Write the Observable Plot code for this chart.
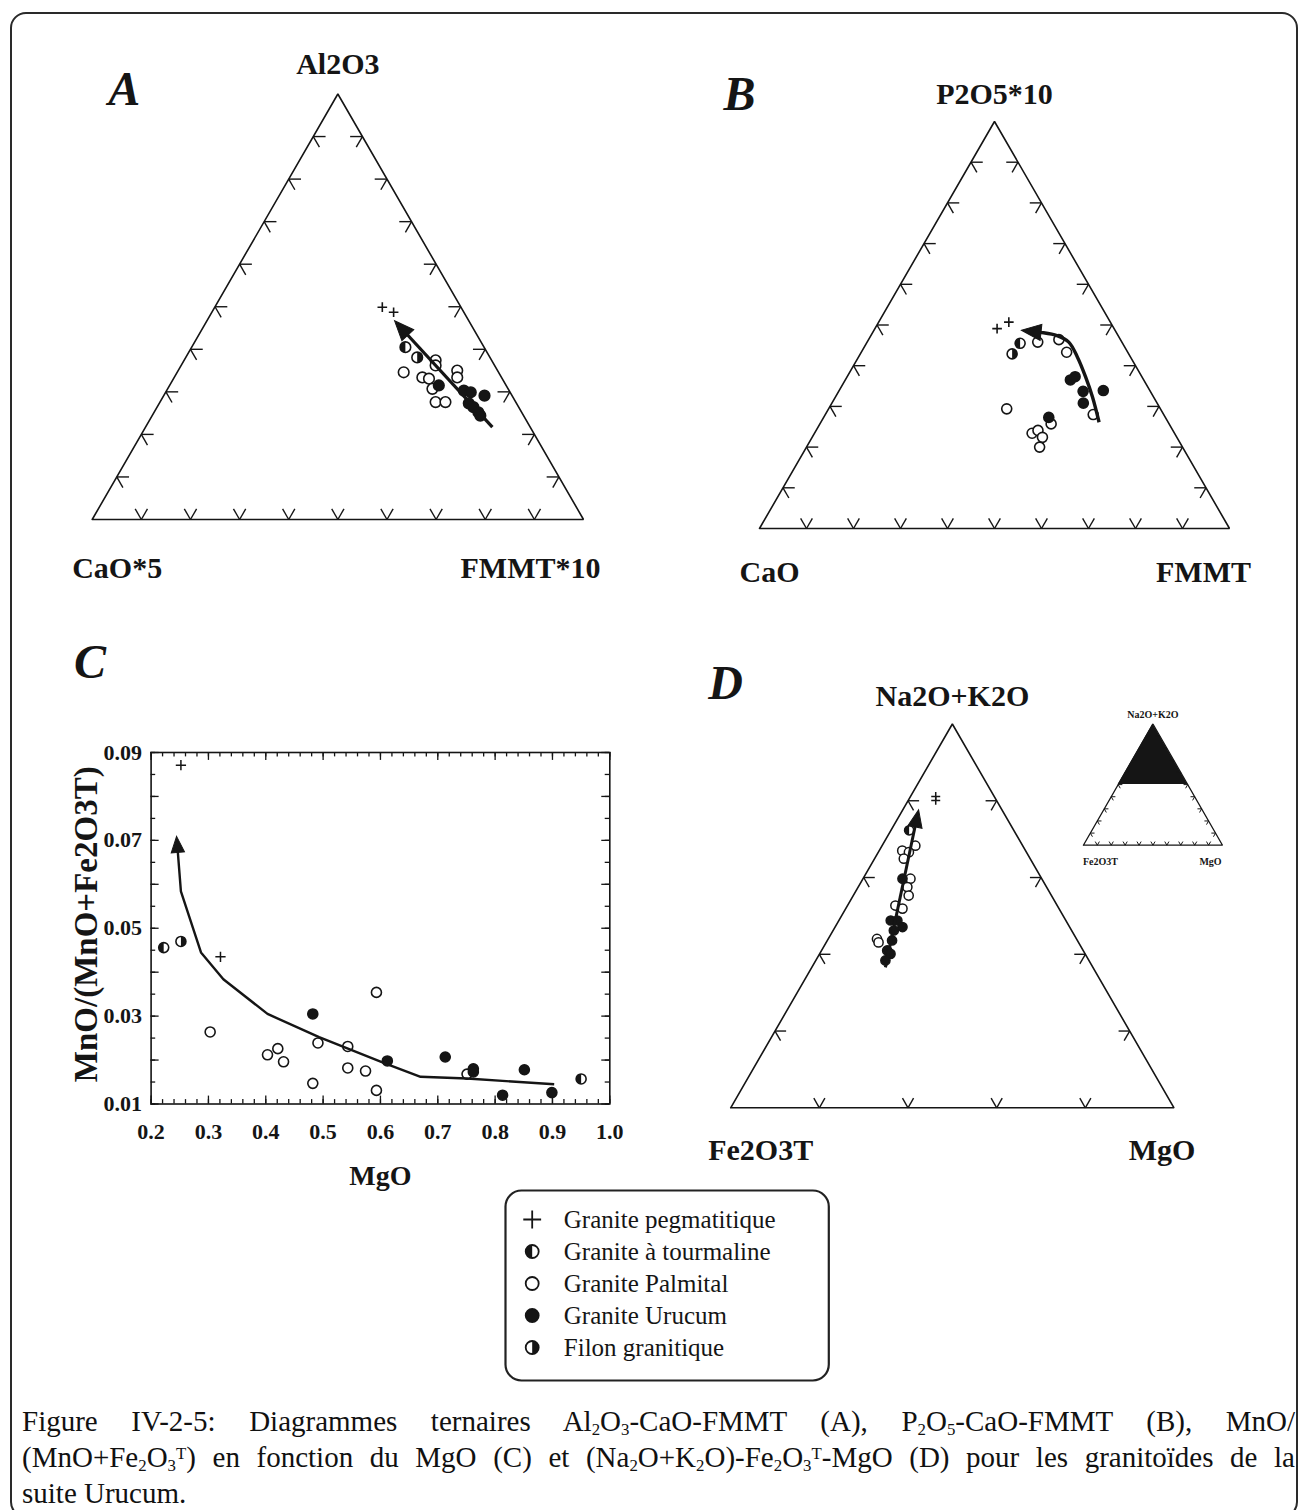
<!DOCTYPE html>
<html><head><meta charset="utf-8">
<script src="https://cdn.jsdelivr.net/npm/d3@7"></script>
<script src="https://cdn.jsdelivr.net/npm/@observablehq/plot@0.6"></script>
<style>
html,body{margin:0;padding:0;background:#fff;overflow:hidden;}
#page{position:relative;width:1306px;height:1510px;overflow:hidden;background:#fff;font-family:"Liberation Serif","Times New Roman",serif;color:#111;}
#border{position:absolute;left:10px;top:12px;width:1288px;height:1506px;border:2px solid #2a2a2a;border-radius:16px;box-sizing:border-box;}
#caption{position:absolute;left:22px;top:1403px;width:1273px;font-size:29px;line-height:36px;}
#caption > div{height:36px;}
#caption .j{text-align:justify;text-align-last:justify;white-space:nowrap;}
#caption .t{word-spacing:-1px;}
#caption sub,#caption sup{font-size:0.58em;line-height:1;vertical-align:baseline;position:relative;}
#caption sub{top:0.22em;}
#caption sup{top:-0.5em;}
</style></head>
<body><div id="page"><div id="border"></div>
<div id="caption">
<div class="j">Figure IV-2-5: Diagrammes ternaires Al<sub>2</sub>O<sub>3</sub>-CaO-FMMT (A), P<sub>2</sub>O<sub>5</sub>-CaO-FMMT (B), MnO/</div>
<div class="j t">(MnO+Fe<sub>2</sub>O<sub>3</sub><sup>T</sup>) en fonction du MgO (C) et (Na<sub>2</sub>O+K<sub>2</sub>O)-Fe<sub>2</sub>O<sub>3</sub><sup>T</sup>-MgO (D) pour les granitoïdes de la</div>
<div>suite Urucum.</div>
</div>
</div>
<script>
// ---------------- DATA ----------------
const groups = ["Granite pegmatitique","Granite à tourmaline","Granite Palmital","Granite Urucum","Filon granitique"];

// Panel A : [Al2O3 %, FMMT*10 %]  (CaO*5 = remainder)
const aPeg   = [[49.9,34.1],[48.7,37.0]];
const aTour  = [[40.5,43.5]];
const aFilon = [[38.1,47.1]];
const aPalm  = [[37.4,51.2],[36.2,51.8],[34.6,46.1],[33.4,50.5],[33.1,52.0],[30.7,53.9],[35.0,56.8],[33.4,57.6],[27.6,56.1],[27.6,58.1]];
const aUru   = [[31.5,54.8],[30.3,60.5],[29.9,62.1],[29.1,65.3],[27.3,63.0],[26.4,64.4],[25.2,66.0],[24.4,66.8]];
const aTrend = [[21.7,70.6],[46.0,39.1]];

// Panel B : [P2O5*10 %, FMMT %]  (CaO = remainder)
const bPeg   = [[49.1,26.0],[50.7,27.7]];
const bTour  = [[45.5,32.7]];
const bFilon = [[42.9,32.3]];
const bPalm  = [[45.8,36.3],[46.4,40.5],[43.3,43.7],[29.4,37.9],[28.0,57.0],[25.7,49.2],[23.4,46.3],[24.1,47.2],[22.4,49.0],[20.0,49.6]];
const bUru   = [[36.5,47.9],[37.3,48.5],[33.7,52.0],[33.9,56.2],[30.8,53.5],[27.3,47.9]];
const bTrend = [[26.1,59.2],[32.3,54.7],[37.2,50.8],[42.1,46.6],[45.8,42.9],[47.4,39.6],[48.2,35.7],[48.6,32.3]];

// Panel C : [MgO, MnO/(MnO+Fe2O3T)]
const cPeg   = [[0.252,0.0871],[0.321,0.0435]];
const cTour  = [[0.222,0.0456],[0.950,0.0157]];
const cFilon = [[0.252,0.0470]];
const cPalm  = [[0.303,0.0264],[0.403,0.0212],[0.421,0.0226],[0.431,0.0196],[0.482,0.0147],[0.491,0.0239],[0.543,0.0231],[0.543,0.0182],[0.574,0.0175],[0.593,0.0354],[0.593,0.0131],[0.751,0.0168]];
const cUru   = [[0.482,0.0305],[0.612,0.0198],[0.713,0.0207],[0.762,0.0180],[0.762,0.0173],[0.851,0.0178],[0.813,0.0120],[0.899,0.0126]];
const cTrend = [[0.903,0.0145],[0.751,0.0158],[0.670,0.0162],[0.609,0.0192],[0.493,0.0252],[0.403,0.0305],[0.326,0.0384],[0.287,0.0445],[0.252,0.0584],[0.245,0.0700]];
const cXTicks = [0.2,0.3,0.4,0.5,0.6,0.7,0.8,0.9,1.0];
const cYTicks = [0.01,0.03,0.05,0.07,0.09];

// Panel D : [Na2O+K2O %, MgO %]  (Fe2O3T = remainder)
const dPeg   = [[81.1,5.7],[80.1,6.2]];
const dTour  = [[72.3,4.1]];
const dPalm  = [[68.3,7.5],[67.0,5.2],[66.6,6.9],[64.9,6.6],[59.7,10.7],[57.5,11.1],[55.3,12.5],[52.7,10.8],[51.9,12.8],[44.0,11.0],[43.1,11.8]];
const dUru   = [[59.7,8.9],[48.8,11.7],[48.8,13.2],[47.1,15.2],[46.2,13.7],[43.6,14.6],[41.0,14.8],[40.1,16.0],[38.4,15.7]];
const dTrend = [[36.6,16.6],[76.6,3.9]];
const dInsetCut = [50,100]; // shaded field Na2O+K2O > 50 %

const ticks10 = [10,20,30,40,50,60,70,80,90];
const ticks20 = [20,40,60,80];

// ---------------- HELPERS ----------------
const W = 1306, H = 1510;
const INK = "#151515";
const FONT = "'Liberation Serif','Times New Roman',serif";
const page = document.getElementById("page");

const halfLeft  = {draw(c,s){const r=Math.sqrt(s/Math.PI); c.moveTo(0,-r); c.arc(0,0,r,-Math.PI/2,Math.PI/2,true); c.closePath();}};
const halfRight = {draw(c,s){const r=Math.sqrt(s/Math.PI); c.moveTo(0,-r); c.arc(0,0,r,-Math.PI/2,Math.PI/2,false); c.closePath();}};
const arrowSym  = {draw(c,s){const r=Math.sqrt(s/Math.PI); c.moveTo(0,-1.4*r); c.lineTo(0.95*r,0.9*r); c.lineTo(-0.95*r,0.9*r); c.closePath();}};

function mount(svg){
  svg.style.position="absolute"; svg.style.left="0px"; svg.style.top="0px";
  svg.style.maxWidth="none"; svg.style.background="transparent"; svg.style.overflow="visible";
  page.appendChild(svg);
}
function frameOpts(L,R,T,B){
  return {width:W,height:H,marginLeft:L,marginRight:W-R,marginTop:T,marginBottom:H-B,
          style:{background:"transparent",fontFamily:FONT}};
}
function symbolMarks(pts, kind, r, pr, sw){
  const o = {x:"x", y:"y"};
  switch(kind){
    case "peg":   return [Plot.dot(pts,{...o,symbol:"plus",r:pr,fill:"none",stroke:INK,strokeWidth:sw})];
    case "tour":  return [Plot.dot(pts,{...o,r,fill:"white",stroke:INK,strokeWidth:sw}),
                          Plot.dot(pts,{...o,r,symbol:halfLeft,fill:INK,stroke:"none"})];
    case "filon": return [Plot.dot(pts,{...o,r,fill:"white",stroke:INK,strokeWidth:sw}),
                          Plot.dot(pts,{...o,r,symbol:halfRight,fill:INK,stroke:"none"})];
    case "palm":  return [Plot.dot(pts,{...o,r,fill:"white",stroke:INK,strokeWidth:sw})];
    case "uru":   return [Plot.dot(pts,{...o,r,fill:INK,stroke:INK,strokeWidth:sw})];
  }
}
function head(tp, sx, sy, r, ext=4){
  const a = tp[tp.length-2], b = tp[tp.length-1];
  const X0=sx(a.x),Y0=sy(a.y),X1=sx(b.x),Y1=sy(b.y);
  const L=Math.hypot(X1-X0,Y1-Y0), ux=(X1-X0)/L, uy=(Y1-Y0)/L;
  const k = ext - 1.4*r;
  return Plot.dot([b],{x:"x",y:"y",symbol:arrowSym,r,fill:INK,stroke:INK,strokeWidth:1,strokeLinejoin:"miter",
    rotate:Math.atan2(ux,-uy)*180/Math.PI, dx:ux*k, dy:uy*k});
}
const cart = ([t,r]) => ({x:(r+t/2)/100, y:t/100});
function tickSegs(ticks, d){
  const s=[];
  for(const f of ticks){
    s.push([[0,f],[d,f]],[[0,f],[d,f-d]]);                 // bottom edge
    s.push([[f,0],[f,d]],[[f,0],[f-d,d]]);                 // left edge
    s.push([[f,100-f],[f,100-f-d]],[[f,100-f],[f-d,100-f]]); // right edge
  }
  return s.map(([a,b])=>{const p=cart(a),q=cart(b);return {x1:p.x,y1:p.y,x2:q.x,y2:q.y};});
}
const VX = {apex:0.5,left:0,right:1,corner:0}, VY = {apex:1,left:0,right:0,corner:1};

function ternary(cfg){
  const sx=d3.scaleLinear([0,1],[cfg.L,cfg.R]), sy=d3.scaleLinear([0,1],[cfg.B,cfg.T]);
  const outline=[[0,0],[0,100],[100,0],[0,0]].map(cart);
  const marks=[];
  if(cfg.fillTop) marks.push(Plot.areaX(cfg.fillTop.map(t=>({t})),{y:d=>d.t/100,x1:d=>d.t/200,x2:d=>1-d.t/200,fill:INK,stroke:"none"}));
  marks.push(Plot.link(tickSegs(cfg.ticks,cfg.d),{x1:"x1",y1:"y1",x2:"x2",y2:"y2",stroke:INK,strokeWidth:cfg.tickW}));
  marks.push(Plot.line(outline,{x:"x",y:"y",stroke:INK,strokeWidth:cfg.ow,strokeLinejoin:"miter"}));
  if(cfg.sets) for(const [kind,pts] of cfg.sets) marks.push(...symbolMarks(pts.map(cart),kind,cfg.r,cfg.pr,cfg.sw));
  if(cfg.trend){
    const tp=cfg.trend.map(cart);
    marks.push(Plot.line(tp,{x:"x",y:"y",curve:cfg.curve||"linear",stroke:INK,strokeWidth:cfg.tw,strokeLinecap:"butt"}));
    marks.push(head(tp,sx,sy,cfg.headR));
  }
  for(const lb of cfg.labels) marks.push(Plot.text([lb.text],{x:VX[lb.at],y:VY[lb.at],text:d=>d,dx:lb.dx,dy:lb.dy,
      fontSize:lb.size,fontWeight:"bold",fontStyle:lb.italic?"italic":"normal",fill:INK,fontFamily:FONT}));
  mount(Plot.plot({...frameOpts(cfg.L,cfg.R,cfg.T,cfg.B),x:{domain:[0,1],axis:null},y:{domain:[0,1],axis:null},marks}));
}

// ---------------- PANEL A ----------------
ternary({L:91.7,R:583,B:519,T:93.5,ticks:ticks10,d:2.5,tickW:1.4,ow:1.6,r:5.3,pr:3.2,sw:1.6,
  sets:[["palm",aPalm],["uru",aUru],["tour",aTour],["filon",aFilon],["peg",aPeg]],
  trend:aTrend,tw:3.2,headR:8.5,
  labels:[{text:"Al2O3",at:"apex",dx:0,dy:-30,size:30},
          {text:"CaO*5",at:"left",dx:25,dy:49,size:30},
          {text:"FMMT*10",at:"right",dx:-53,dy:49,size:30},
          {text:"A",at:"corner",dx:32,dy:-4,size:48,italic:true}]});

// ---------------- PANEL B ----------------
ternary({L:759,R:1229,B:528,T:121,ticks:ticks10,d:2.5,tickW:1.4,ow:1.6,r:5,pr:3.2,sw:1.6,
  sets:[["palm",bPalm],["uru",bUru],["tour",bTour],["filon",bFilon],["peg",bPeg]],
  trend:bTrend,curve:"catmull-rom",tw:3.4,headR:8.5,
  labels:[{text:"P2O5*10",at:"apex",dx:0,dy:-27,size:30},
          {text:"CaO",at:"left",dx:10,dy:44,size:30},
          {text:"FMMT",at:"right",dx:-26,dy:44,size:30},
          {text:"B",at:"corner",dx:-20,dy:-27,size:48,italic:true}]});

// ---------------- PANEL D ----------------
ternary({L:730.2,R:1173.5,B:1107.3,T:723.5,ticks:ticks20,d:2.5,tickW:1.4,ow:1.6,r:4.6,pr:3,sw:1.5,
  sets:[["palm",dPalm],["uru",dUru],["tour",dTour],["peg",dPeg]],
  trend:dTrend,tw:3,headR:7.5,
  labels:[{text:"Na2O+K2O",at:"apex",dx:0,dy:-28,size:30},
          {text:"Fe2O3T",at:"left",dx:30,dy:43,size:30},
          {text:"MgO",at:"right",dx:-12,dy:43,size:30},
          {text:"D",at:"corner",dx:-5,dy:-40,size:48,italic:true}]});

// inset of D
ternary({L:1082.9,R:1222,B:844.7,T:723.5,ticks:ticks10,d:3,tickW:1,ow:1.3,
  fillTop:dInsetCut,
  labels:[{text:"Na2O+K2O",at:"apex",dx:0,dy:-9,size:10},
          {text:"Fe2O3T",at:"left",dx:17,dy:17,size:10},
          {text:"MgO",at:"right",dx:-12,dy:17,size:10}]});

// ---------------- PANEL C ----------------
(function(){
  const CL=150.6, CR=609.3, CT=752, CB=1103.5;
  const sx=d3.scaleLinear([0.2,1.0],[CL,CR]), sy=d3.scaleLinear([0.01,0.09],[CB,CT]);
  const xy = d=>({x:d[0],y:d[1]});
  const xMinor=d3.range(0.2,1.0001,0.02), yMajor=d3.range(0.01,0.0901,0.01), yMinor=d3.range(0.01,0.0901,0.005);
  const tY=0.0018, tYm=0.001, tX=0.014, tXm=0.008;
  const tp=cTrend.map(xy);
  const marks=[
    Plot.frame({stroke:INK,strokeWidth:1.6}),
    Plot.ruleX(xMinor,{x:d=>d,y1:0.01,y2:0.01+tYm,stroke:INK,strokeWidth:1.3}),
    Plot.ruleX(xMinor,{x:d=>d,y1:0.09-tYm,y2:0.09,stroke:INK,strokeWidth:1.3}),
    Plot.ruleX(cXTicks,{x:d=>d,y1:0.01,y2:0.01+tY,stroke:INK,strokeWidth:1.3}),
    Plot.ruleX(cXTicks,{x:d=>d,y1:0.09-tY,y2:0.09,stroke:INK,strokeWidth:1.3}),
    Plot.ruleY(yMinor,{y:d=>d,x1:0.2,x2:0.2+tXm,stroke:INK,strokeWidth:1.3}),
    Plot.ruleY(yMinor,{y:d=>d,x1:1.0-tXm,x2:1.0,stroke:INK,strokeWidth:1.3}),
    Plot.ruleY(yMajor,{y:d=>d,x1:0.2,x2:0.2+tX,stroke:INK,strokeWidth:1.3}),
    Plot.ruleY(yMajor,{y:d=>d,x1:1.0-tX,x2:1.0,stroke:INK,strokeWidth:1.3}),
    ...symbolMarks(cPalm.map(xy),"palm",5,3.4,1.6),
    ...symbolMarks(cUru.map(xy),"uru",5,3.4,1.6),
    ...symbolMarks(cTour.map(xy),"tour",5,3.4,1.6),
    ...symbolMarks(cFilon.map(xy),"filon",5,3.4,1.6),
    ...symbolMarks(cPeg.map(xy),"peg",5,3.4,1.5),
    Plot.line(tp,{x:"x",y:"y",stroke:INK,strokeWidth:2.4,strokeLinecap:"butt"}),
    head(tp,sx,sy,7),
    Plot.text(cXTicks,{x:d=>d,y:0.01,text:d=>d.toFixed(1),dy:28,fontSize:22,fontWeight:"bold",fill:INK,fontFamily:FONT}),
    Plot.text(cYTicks,{x:0.2,y:d=>d,text:d=>d.toFixed(2),dx:-9,textAnchor:"end",fontSize:22,fontWeight:"bold",fill:INK,fontFamily:FONT}),
    Plot.text(["MgO"],{x:0.6,y:0.01,text:d=>d,dy:72,fontSize:28,fontWeight:"bold",fill:INK,fontFamily:FONT}),
    Plot.text(["MnO/(MnO+Fe2O3T)"],{x:0.2,y:0.05,text:d=>d,dx:-65,dy:-4,rotate:-90,fontSize:33,fontWeight:"bold",fill:INK,fontFamily:FONT}),
    Plot.text(["C"],{x:0.2,y:0.09,text:d=>d,dx:-61,dy:-90,fontSize:48,fontWeight:"bold",fontStyle:"italic",fill:INK,fontFamily:FONT})
  ];
  mount(Plot.plot({...frameOpts(CL,CR,CT,CB),x:{domain:[0.2,1.0],axis:null},y:{domain:[0.01,0.09],axis:null},marks}));
})();

// ---------------- LEGEND ----------------
(function(){
  const LL=505, LR=828.3, LT=1190, LB=1380;
  const kinds=["peg","tour","palm","uru","filon"];
  const marks=[Plot.frame({stroke:"#222",strokeWidth:2.2,rx:16})];
  groups.forEach((g,i)=>marks.push(...symbolMarks([{x:0,y:g}],kinds[i],6.5,5.8,1.8)));
  marks.push(Plot.text(groups,{x:1,y:d=>d,text:d=>d,textAnchor:"start",fontSize:25,fill:INK,fontFamily:FONT}));
  mount(Plot.plot({...frameOpts(LL,LR,LT,LB),
    x:{domain:[0,1],range:[531.7,563.3],axis:null},
    y:{type:"point",domain:groups,range:[1218.3,1348.3],padding:0,axis:null},marks}));
})();
</script>
</body></html>
